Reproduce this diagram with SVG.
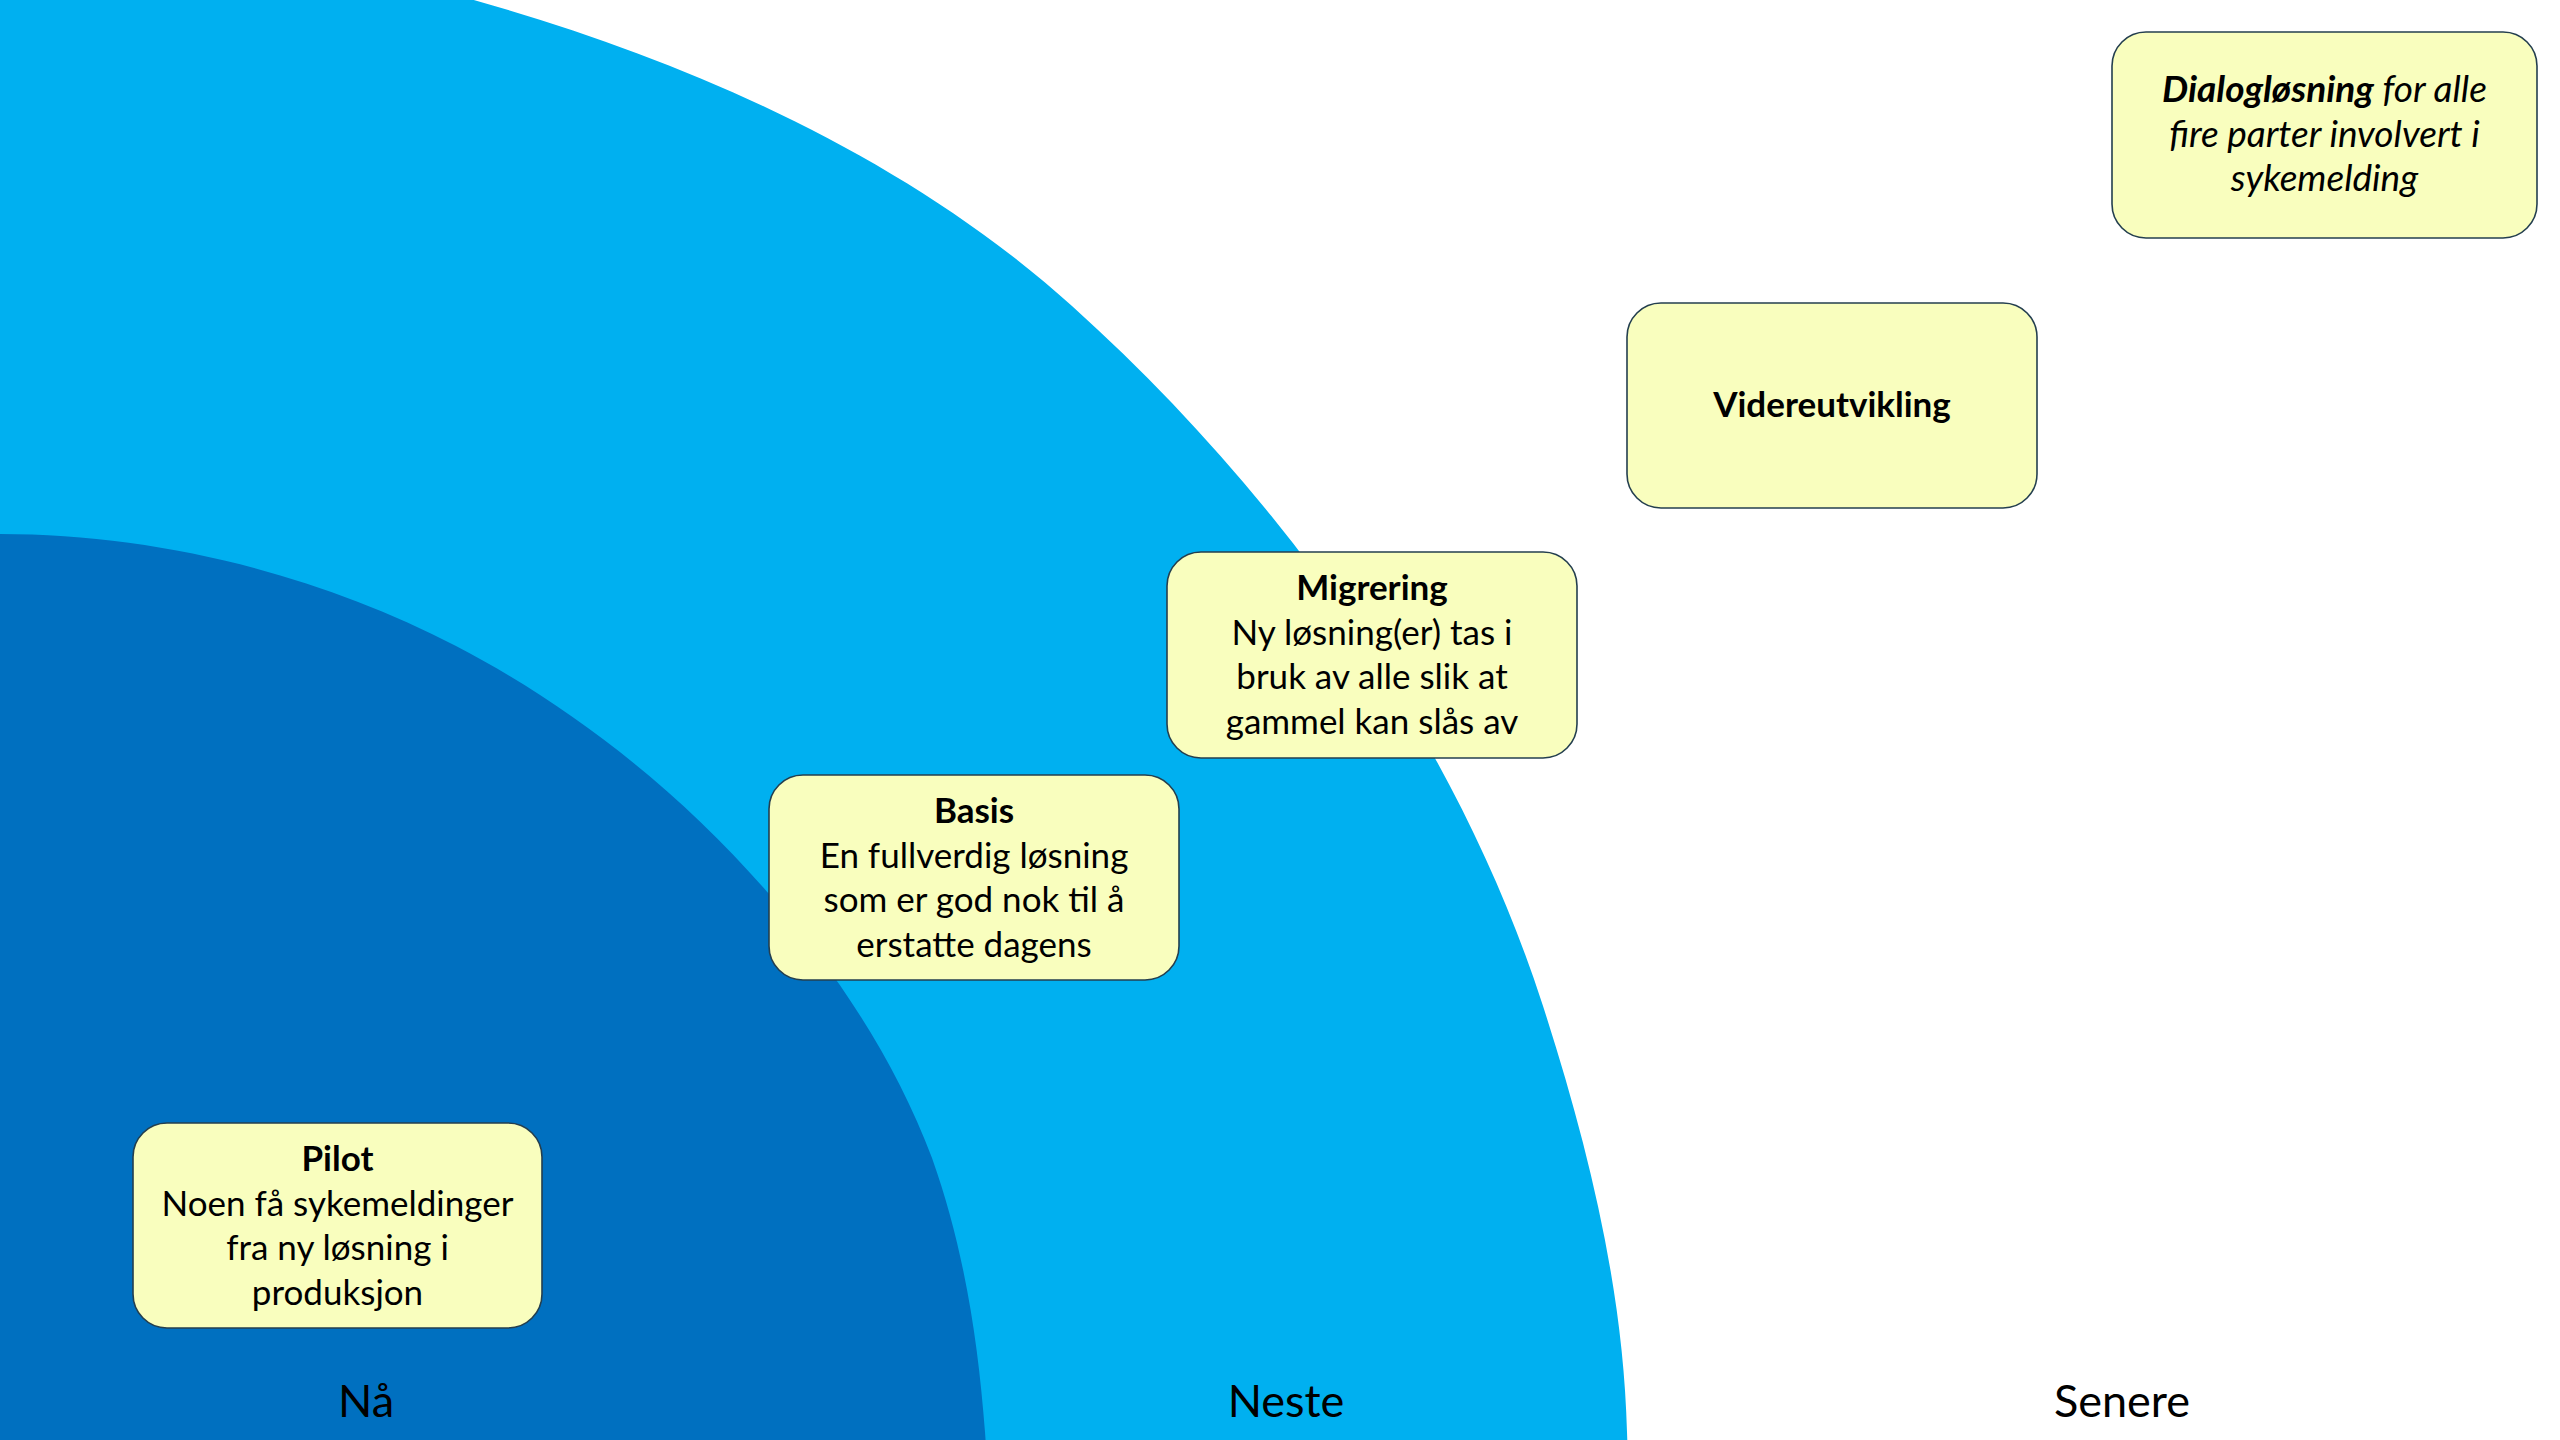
<svg xmlns="http://www.w3.org/2000/svg" width="2560" height="1440" viewBox="0 0 2560 1440">
  <style>
    .box { fill: #F9FEBE; stroke: #243F4F; stroke-width: 1.6; }
    .txt { font-family: Lato, "Open Sans", "Liberation Sans", sans-serif; font-size: 35px; fill: #000; text-anchor: middle; }
    .head { font-weight: bold; }
    .ital { font-style: italic; font-size: 37px; }
    .phase { font-family: Lato, "Open Sans", "Liberation Sans", sans-serif; font-size: 45px; fill: #000; text-anchor: middle; }
  </style>

  <rect x="0" y="0" width="2560" height="1440" fill="#FFFFFF"/>

  <!-- outer band: "Neste" -->
  <path id="band-neste" fill="#00B0F0"
        d="M -10,-10 L 437,-10
           C 665.2,50 896.7,148.1 1072,306
           C 1280.9,494.1 1456.7,738.3 1543,1006
           C 1587.4,1143.8 1623.2,1287.3 1627,1432
           L 1628,1460 L -10,1460 Z"/>

  <!-- inner band: "Nå" -->
  <path id="band-naa" fill="#0070C0"
        d="M -10,534 L 0,534
           C 156.5,534 317.1,573.8 456,646
           C 574.1,707.4 681.7,793.5 769,894
           C 836.7,971.9 896,1062 932,1158
           C 964,1248 978,1340 985,1432
           L 987,1460 L -10,1460 Z"/>

  <!-- phase labels -->
  <g id="phase-labels">
    <text class="phase" x="366" y="1417">Nå</text>
    <text class="phase" x="1286" y="1417">Neste</text>
    <text class="phase" x="2122" y="1417">Senere</text>
  </g>

  <g id="pilot">
    <rect class="box" x="133" y="1123" width="409" height="205" rx="34"/>
    <text class="txt head" x="337.5" y="1171">Pilot</text>
    <text class="txt" x="337.5" y="1216">Noen få sykemeldinger</text>
    <text class="txt" x="337.5" y="1260">fra ny løsning i</text>
    <text class="txt" x="337.5" y="1305">produksjon</text>
  </g>

  <g id="basis">
    <rect class="box" x="769" y="775" width="410" height="205" rx="34"/>
    <text class="txt head" x="974" y="823">Basis</text>
    <text class="txt" x="974" y="868">En fullverdig løsning</text>
    <text class="txt" x="974" y="912">som er god nok til å</text>
    <text class="txt" x="974" y="957">erstatte dagens</text>
  </g>

  <g id="migrering">
    <rect class="box" x="1167" y="552" width="410" height="206" rx="34"/>
    <text class="txt head" x="1372" y="600">Migrering</text>
    <text class="txt" x="1372" y="645">Ny løsning(er) tas i</text>
    <text class="txt" x="1372" y="689">bruk av alle slik at</text>
    <text class="txt" x="1372" y="734">gammel kan slås av</text>
  </g>

  <g id="videreutvikling">
    <rect class="box" x="1627" y="303" width="410" height="205" rx="34"/>
    <text class="txt head" x="1832" y="417">Videreutvikling</text>
  </g>

  <g id="dialoglosning">
    <rect class="box" x="2112" y="32" width="425" height="206" rx="34"/>
    <text class="txt ital" x="2324.5" y="102"><tspan font-weight="bold">Dialogløsning</tspan> for alle</text>
    <text class="txt ital" x="2324.5" y="147">fire parter involvert i</text>
    <text class="txt ital" x="2324.5" y="191">sykemelding</text>
  </g>
</svg>
